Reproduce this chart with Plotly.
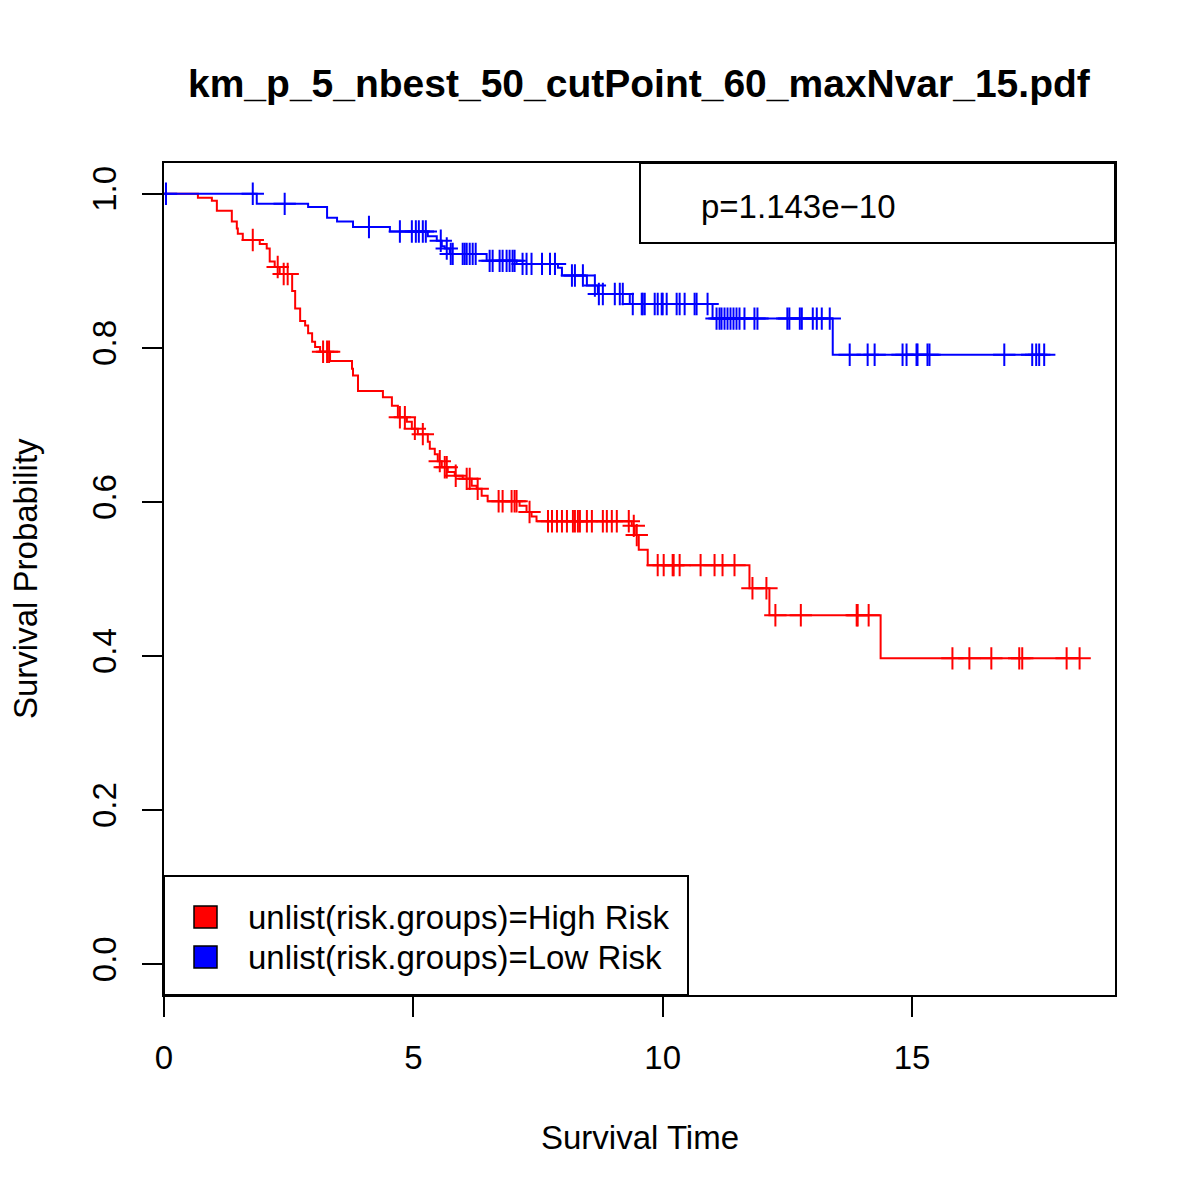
import plotly.graph_objects as go

# Kaplan-Meier curves: event times and survival after each step
high_times = [0.68, 0.96, 1.06, 1.36, 1.46, 1.48, 1.58, 1.92, 2.06, 2.12, 2.22, 2.32, 2.57, 2.63,
              2.73, 2.83, 2.89, 2.97, 3.03, 3.13, 3.33, 3.77, 3.79, 3.89, 4.39, 4.57, 4.69, 4.87,
              4.97, 5.09, 5.29, 5.33, 5.43, 5.49, 5.57, 5.69, 5.83, 5.99, 6.17, 6.27, 6.37, 6.49,
              7.13, 7.27, 7.37, 7.47, 9.38, 9.44, 9.52, 9.70, 11.74, 12.14, 14.37]
high_surv = [0.995, 0.991, 0.978, 0.964, 0.955, 0.948, 0.940, 0.935, 0.929, 0.912, 0.905, 0.896,
             0.874, 0.851, 0.835, 0.829, 0.819, 0.808, 0.801, 0.795, 0.783, 0.773, 0.764, 0.744,
             0.736, 0.725, 0.710, 0.704, 0.695, 0.688, 0.678, 0.669, 0.662, 0.653, 0.645, 0.639,
             0.634, 0.630, 0.621, 0.617, 0.608, 0.601, 0.595, 0.587, 0.581, 0.575, 0.569, 0.557,
             0.538, 0.518, 0.488, 0.453, 0.397]
high_cens = [1.78, 2.28, 2.40, 2.48, 3.19, 3.27, 3.31, 4.73, 4.83, 5.03, 5.19, 5.53, 5.63, 5.67,
             5.85, 6.07, 6.13, 6.29, 6.71, 6.79, 6.97, 7.03, 7.07, 7.33, 7.70, 7.78, 7.88, 7.98,
             8.08, 8.20, 8.24, 8.30, 8.34, 8.48, 8.58, 8.80, 8.88, 8.98, 9.08, 9.32, 9.42, 9.48,
             9.90, 10.02, 10.20, 10.22, 10.34, 10.76, 11.04, 11.20, 11.44, 11.80, 12.08, 12.26,
             12.77, 13.89, 13.91, 14.13, 15.81, 16.15, 16.59, 17.15, 17.21, 18.10, 18.36]

low_times = [1.86, 2.89, 3.27, 3.47, 3.79, 4.53, 5.29, 5.47, 5.57, 5.63, 5.73, 6.47, 7.07, 7.90,
             7.98, 8.48, 8.70, 9.34, 11.00, 13.41]
low_surv = [0.987, 0.983, 0.969, 0.964, 0.957, 0.951, 0.945, 0.939, 0.932, 0.929, 0.922, 0.913,
            0.909, 0.904, 0.894, 0.881, 0.870, 0.857, 0.838, 0.791]
low_cens = [0.04, 1.78, 2.42, 4.11, 4.73, 4.97, 5.05, 5.11, 5.19, 5.25, 5.55, 5.67, 5.75, 5.79,
            5.99, 6.03, 6.07, 6.13, 6.19, 6.25, 6.53, 6.59, 6.73, 6.79, 6.87, 6.93, 6.99, 7.03,
            7.19, 7.27, 7.37, 7.58, 7.74, 7.84, 8.18, 8.24, 8.40, 8.64, 8.72, 8.80, 9.04, 9.14,
            9.20, 9.40, 9.58, 9.60, 9.64, 9.84, 9.90, 9.98, 10.00, 10.08, 10.28, 10.34, 10.44,
            10.64, 10.68, 10.90, 11.08, 11.14, 11.18, 11.24, 11.30, 11.36, 11.42, 11.48, 11.54,
            11.64, 11.84, 11.90, 12.50, 12.54, 12.75, 12.79, 13.01, 13.09, 13.19, 13.35, 13.75,
            14.11, 14.25, 14.81, 14.89, 15.09, 15.11, 15.31, 15.35, 16.85, 17.41, 17.49, 17.55,
            17.65]

group_names = ["unlist(risk.groups)=High Risk", "unlist(risk.groups)=Low Risk"]
group_colors = ["#ff0000", "#0000ff"]
p_text = "p=1.143e\u221210"
x_ticks = [0, 5, 10, 15]
y_ticks = [0.0, 0.2, 0.4, 0.6, 0.8, 1.0]
y_ticklabels = ["0.0", "0.2", "0.4", "0.6", "0.8", "1.0"]

FONT = "Liberation Sans, Arial, sans-serif"


def surv_at(t, times, surv):
    s = 1.0
    for ti, si in zip(times, surv):
        if ti <= t:
            s = si
    return s


fig = go.Figure()

groups = [(high_times, high_surv, high_cens), (low_times, low_surv, low_cens)]
for (times, surv, cens), name, col in zip(groups, group_names, group_colors):
    end = max(cens[-1], times[-1])
    xs = [0] + times + [end]
    ys = [1.0] + surv + [surv[-1]]
    fig.add_trace(go.Scatter(x=xs, y=ys, mode="lines", line=dict(color=col, width=2, shape="hv"),
                             name=name, showlegend=False))
    fig.add_trace(go.Scatter(x=cens, y=[surv_at(c, times, surv) for c in cens], mode="markers",
                             marker=dict(symbol="cross-thin", size=16, line=dict(color=col, width=2)),
                             showlegend=False, hoverinfo="skip"))

# legend box, bottom left (paper coords of a 164..1115 x 163..995 plot box)
def px(x):
    return (x - 164) / 951


def py(y):
    return (995 - y) / 832


fig.add_shape(type="rect", xref="paper", yref="paper", x0=0, x1=px(688), y0=0, y1=py(876),
              line=dict(color="black", width=2), fillcolor="white", layer="above")
for i, (name, col) in enumerate(zip(group_names, group_colors)):
    cy = 917 + i * 40
    fig.add_shape(type="rect", xref="paper", yref="paper", x0=px(194), x1=px(217),
                  y0=py(cy + 11), y1=py(cy - 11), line=dict(color="black", width=1.5),
                  fillcolor=col, layer="above")
    fig.add_annotation(text=name, xref="paper", yref="paper", x=px(246), y=py(cy),
                       xanchor="left", yanchor="middle", showarrow=False,
                       font=dict(family=FONT, size=33, color="black"))

# p-value box, top right
fig.add_shape(type="rect", xref="paper", yref="paper", x0=px(640), x1=1, y0=py(243), y1=1,
              line=dict(color="black", width=2), fillcolor="rgba(0,0,0,0)", layer="above")
fig.add_annotation(text=p_text, xref="paper", yref="paper", x=px(699), y=py(206),
                   xanchor="left", yanchor="middle", showarrow=False,
                   font=dict(family=FONT, size=33, color="black"))

# titles
fig.add_annotation(text="<b>km_p_5_nbest_50_cutPoint_60_maxNvar_15.pdf</b>", xref="paper",
                   yref="paper", x=0.5, y=py(84), xanchor="center", yanchor="middle",
                   showarrow=False, font=dict(family=FONT, size=39, color="black"))
fig.add_annotation(text="Survival Time", xref="paper", yref="paper", x=0.5, y=py(1137),
                   xanchor="center", yanchor="middle", showarrow=False,
                   font=dict(family=FONT, size=33, color="black"))
fig.add_annotation(text="Survival Probability", xref="paper", yref="paper", x=px(25), y=0.5,
                   xanchor="center", yanchor="middle", textangle=-90, showarrow=False,
                   font=dict(family=FONT, size=33, color="black"))

# page body has an 8px margin, so the figure is 1184 wide and margins are trimmed by 8
fig.update_layout(
    width=1184, height=1184,
    margin=dict(l=156, r=77, t=155, b=197),
    plot_bgcolor="white", paper_bgcolor="white",
    font=dict(family=FONT, size=33, color="black"),
    showlegend=False,
)
fig.update_xaxes(range=[0, 19.07], tickvals=x_ticks, ticks="outside", ticklen=20, tickwidth=2,
                 tickcolor="black", showline=True, linecolor="black", linewidth=2, mirror=True,
                 showgrid=False, zeroline=False, ticklabelstandoff=12)
fig.update_yaxes(range=[-0.04, 1.04], tickvals=y_ticks, ticktext=y_ticklabels, tickangle=-90,
                 ticks="outside", ticklen=20, tickwidth=2, tickcolor="black", showline=True,
                 linecolor="black", linewidth=2, mirror=True, showgrid=False, zeroline=False,
                 ticklabelstandoff=13)

fig.write_html("out.html")
